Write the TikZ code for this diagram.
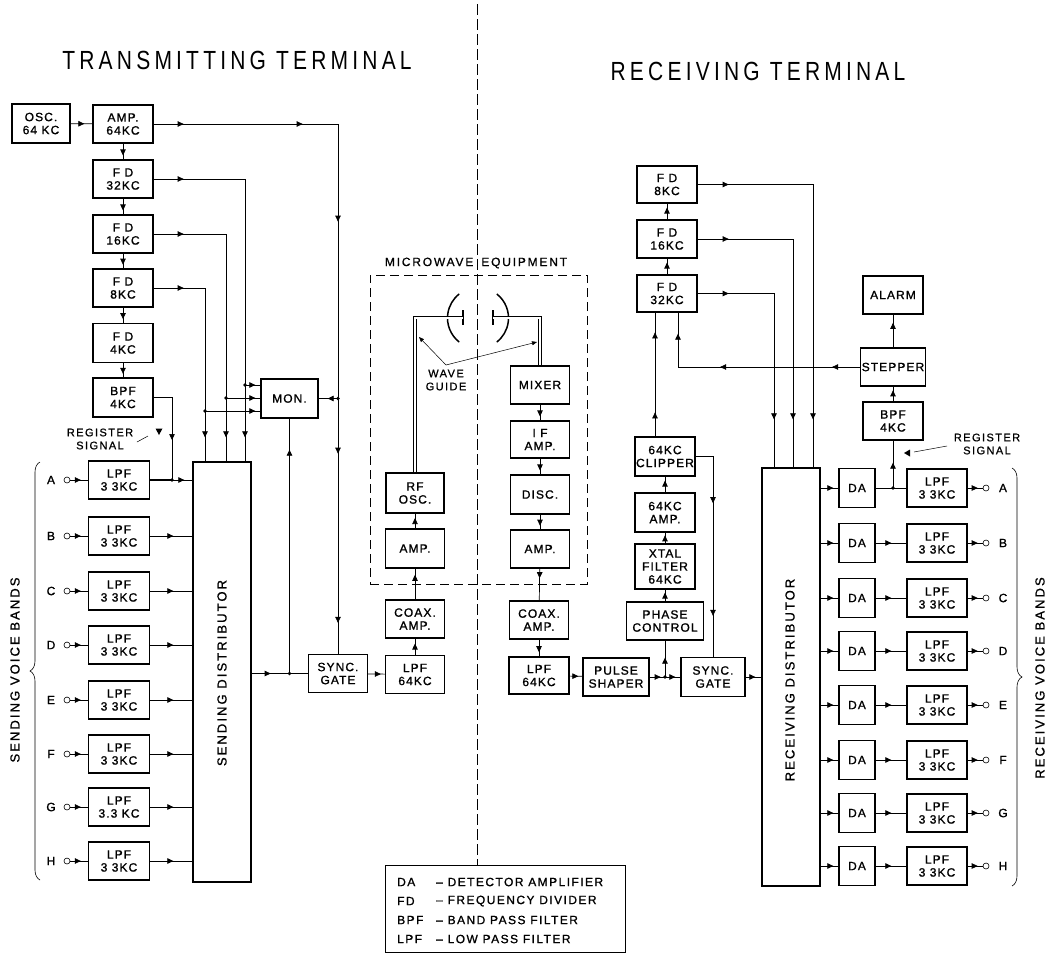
\documentclass[tikz,border=0pt]{standalone}
\usepackage{fontspec}
\setmainfont{Liberation Sans}[LetterSpace=9]
\usetikzlibrary{arrows.meta,decorations.markings,decorations.pathreplacing}
\newcommand\bxf{\fontsize{12}{13}\selectfont\addfontfeatures{FakeBold=1.2}}
\newcommand\smf{\fontsize{11}{13}\selectfont\addfontfeatures{LetterSpace=13,FakeBold=0.8}}
\newcommand\lgf{\fontsize{12}{14}\selectfont\addfontfeatures{LetterSpace=12,FakeBold=1}}
\newcommand\mwf{\fontsize{12}{14}\selectfont\addfontfeatures{LetterSpace=15,FakeBold=0.8}}
\newcommand\rotf{\fontsize{13}{15}\selectfont\addfontfeatures{LetterSpace=16,FakeBold=1}}
\newcommand\ttlf{\fontsize{21}{25}\selectfont\addfontfeatures{LetterSpace=20}}
\tikzset{
  box/.style 2 args={draw, line width=1.3pt, minimum width=#1, minimum height=#2,
     inner sep=1pt, align=center, font=\bxf},
  ln/.style={line width=0.7pt},
  ah/.style={postaction={decorate, decoration={markings,
     mark=at position #1 with {\arrow{Triangle[length=6pt,width=5.5pt]}}}}},
  dot/.style={circle, fill, inner sep=0pt, minimum size=3.6pt},
  term/.style={circle, draw, line width=0.6pt, inner sep=0pt, minimum size=6pt},
  wgl/.style={double, double distance=2pt, line width=0.75pt},
  lbl/.style={font=\lgf, inner sep=0pt},
  leader/.style={line width=0.5pt},
}
\begin{document}
\begin{tikzpicture}[x=1pt,y=-1pt]
\useasboundingbox (0,0) rectangle (1049,954);

% titles
\node[font=\ttlf] (t1) at (237,60) {\scalebox{1}[1.25]{TRANSMITTING TERMINAL}};
\node[font=\ttlf] (t2) at (758,71) {\scalebox{1}[1.25]{RECEIVING TERMINAL}};

% legend and divider
\node[draw, line width=1pt, minimum width=240, minimum height=87] (leg) at (505,908.5) {};
\node[lbl, anchor=west] (lg1) at (397,882) {DA};
\node[lbl, anchor=west] (lg1d) at (436,882) {– DETECTOR AMPLIFIER};
\node[lbl, anchor=west] (lg2) at (397,901) {FD};
\node[lbl, anchor=west] (lg2d) at (436,901) {– FREQUENCY DIVIDER};
\node[lbl, anchor=west] (lg3) at (397,920) {BPF};
\node[lbl, anchor=west] (lg3d) at (436,920) {– BAND PASS FILTER};
\node[lbl, anchor=west] (lg4) at (397,939) {LPF};
\node[lbl, anchor=west] (lg4d) at (436,939) {– LOW PASS FILTER};
\coordinate (dtop) at (477,4);
\draw[line width=0.8pt, dash pattern=on 11pt off 4pt] (dtop) -- (dtop |- leg.north);

% ===== transmitting side =====
\node[box={58}{39}] (osc) at (41,123.5) {OSC.\\64 KC};
\node[box={60}{38}] (amp) at (123,124) {AMP.\\64KC};
\node[box={60}{38}] (fd32) at (123,179) {F D\\32KC};
\node[box={60}{38}] (fd16) at (123,234) {F D\\16KC};
\node[box={60}{38}] (fd8) at (123,288) {F D\\8KC};
\node[box={60}{39}] (fd4) at (123,343) {F D\\4KC};
\node[box={60}{39}] (bpf) at (123,397.5) {BPF\\4KC};

\draw[ln, ah=-8pt] (osc) -- (amp);
\draw[ln, ah=0.75] (amp) -- (fd32);
\draw[ln, ah=0.75] (fd32) -- (fd16);
\draw[ln, ah=0.75] (fd16) -- (fd8);
\draw[ln, ah=0.75] (fd8) -- (fd4);
\draw[ln, ah=0.75] (fd4) -- (bpf);

\node[draw, line width=1.3pt, minimum width=58, minimum height=420] (sdist) at (222,672) {};
\node[rotate=90, font=\rotf] (sdistt) at (222,673) {SENDING DISTRIBUTOR};
\coordinate (t8) at ([xshift=-17pt]sdist.north);
\coordinate (t16) at ([xshift=4pt]sdist.north);
\coordinate (t32) at ([xshift=23pt]sdist.north);

\foreach \lab/\yy/\txt in {A/480/3 3KC,B/536/3 3KC,C/591/3 3KC,D/645/3 3KC,E/700/3 3KC,F/754/3 3KC,G/807/3.3 KC,H/861/3 3KC}{
  \node[box={61}{38}] (sl\lab) at (119,\yy) {LPF\\\txt};
  \node[term] (si\lab) at (67,\yy) {};
  \node[font=\bxf] (sn\lab) at (51,\yy) {\lab};
  \draw[ln, ah=-7pt] (si\lab) -- (sl\lab);
}
\foreach \lab in {B,C,D,E,F,G,H}{
  \draw[ln, ah=-19pt] (sl\lab.east) -- (sl\lab.east -| sdist.west);
}
\node[dot] (sja) at (172,480) {};
\draw[line width=1.4pt] (slA.east) -- (sja.center);
\draw[ln, ah=-8pt] (sja.center) -- (slA.east -| sdist.west);
\draw[ln, ah=-40pt] (bpf.east) -| (sja.center);

% register signal (left)
\node[font=\smf, align=center] (rsl) at (100,439) {REGISTER\\SIGNAL};
\fill (155.5,428.5) -- (162.5,428.5) -- (159,435) -- cycle;
\draw[leader] (137,442) -- (148,436);

% brace left
\draw[line width=0.6pt, decorate, decoration={brace, amplitude=10pt}] (40,880) -- (40,462);
\node[rotate=90, font=\rotf] (svb) at (15,670) {SENDING VOICE BANDS};

% FD outputs to distributor
\draw[ln, ah=30pt, ah=-24pt] (fd32.east) -| (t32);
\draw[ln, ah=30pt, ah=-24pt] (fd16.east) -| (t16);
\draw[ln, ah=30pt, ah=-24pt] (fd8.east) -| (t8);

% monitor
\node[box={57}{39}] (mon) at (289.5,398.5) {MON.};
\node[dot] (m32) at (245,385) {};
\node[dot] (m16) at (226,398) {};
\node[dot] (m8) at (205,411) {};
\draw[ln, ah=-5pt] (m32.center) -- (m32.center -| mon.west);
\draw[ln, ah=-5pt] (m16.center) -- (m16.center -| mon.west);
\draw[ln, ah=-5pt] (m8.center) -- (m8.center -| mon.west);

% sync gate / send chain
\node[box={59}{38}] (ssync) at (338,673.5) {SYNC.\\GATE};
\node[box={59}{38}] (slpf) at (415,674.5) {LPF\\64KC};
\node[box={59}{38}] (scoax) at (415,619) {COAX.\\AMP.};
\node[box={59}{39}] (samp) at (415,548.5) {AMP.};
\node[box={58}{40}] (rfosc) at (415,493) {RF\\OSC.};

\draw[ln, ah=30pt, ah=149pt, ah=282pt, ah=514pt, ah=-31pt] (amp.east) -| (ssync.north);
\node[dot] (mr) at (ssync.north |- mon.east) {};
\draw[ln, ah=-9pt] (mr.center) -- (mon.east);
\node[dot] (so) at (mon.south |- ssync.west) {};
\draw[ln, ah=19pt] (sdist.east |- ssync.west) -- (ssync.west);
\draw[ln, ah=-31pt] (so.center) -- (mon.south);
\draw[ln, ah=-4pt] (ssync) -- (slpf);
\draw[ln, ah=0.7] (slpf) -- (scoax);
\draw[ln, ah=0.8] (scoax) -- (samp);
\draw[ln, ah=0.7] (samp) -- (rfosc);

% ===== microwave equipment =====
\node[draw, line width=0.8pt, dash pattern=on 9pt off 5pt, minimum width=217, minimum height=309] (mw) at (478.5,429.5) {};
\node[font=\mwf] (mwt) at (476,263) {MICROWAVE\hspace{8pt}EQUIPMENT};
\draw[line width=1.5pt] (478,318) ++(128:30.5) arc[start angle=128, end angle=232, radius=30.5];
\draw[line width=1.5pt] (478,318) ++(-52:30.5) arc[start angle=-52, end angle=52, radius=30.5];
\draw[line width=1.4pt] (463,310) -- (463,325);
\draw[line width=1.4pt] (493,310) -- (493,325);
\coordinate (fl) at (463,317.5);
\coordinate (fr) at (493,317.5);

\node[box={59}{38}] (mixer) at (540,385) {MIXER};
\node[box={59}{37}] (ifamp) at (540,439.5) {I F\\AMP.};
\node[box={59}{39}] (disc) at (540,494.5) {DISC.};
\node[box={59}{38}] (ramp) at (540,549) {AMP.};
\node[box={59}{38}] (rcoax) at (539,620) {COAX.\\AMP.};
\node[box={60}{37}] (rlpf) at (539,675.5) {LPF\\64KC};

\draw[wgl] (rfosc.north) |- (fl);
\draw[wgl] (fr) -| (mixer.north);
\node[font=\smf, align=center] (wgt) at (446,380) {WAVE\\GUIDE};
\coordinate (wgo) at (446,365);
\draw[leader, -{Triangle[length=5pt,width=4pt]}] (wgo) -- (419,337);
\draw[leader, -{Triangle[length=5pt,width=4pt]}] (wgo) -- (537,342);

\draw[ln, ah=0.75] (mixer) -- (ifamp);
\draw[ln, ah=0.75] (ifamp) -- (disc);
\draw[ln, ah=0.75] (disc) -- (ramp);
\draw[ln, ah=0.3] (ramp) -- (rcoax);
\draw[ln, ah=0.75] (rcoax) -- (rlpf);

% ===== receiving side =====
\node[box={66}{38}] (pulse) at (616,677) {PULSE\\SHAPER};
\node[box={77}{38}] (phase) at (665,621) {PHASE\\CONTROL};
\node[box={60}{45}] (xtal) at (665,566.5) {XTAL\\FILTER\\64KC};
\node[box={60}{39}] (amp64) at (665,512.5) {64KC\\AMP.};
\node[box={60}{39}] (clip) at (665,456.5) {64KC\\CLIPPER};
\node[box={64}{39}] (rsync) at (713,677) {SYNC.\\GATE};
\node[draw, line width=1.3pt, minimum width=58, minimum height=418] (rdist) at (791,677) {};
\node[rotate=90, font=\rotf] (rdistt) at (790,680) {RECEIVING DISTRIBUTOR};

\node[box={60}{37}] (rfd8) at (667,184.5) {F D\\8KC};
\node[box={60}{38}] (rfd16) at (667,239) {F D\\16KC};
\node[box={60}{37}] (rfd32) at (667,293.5) {F D\\32KC};
\node[box={60}{38}] (alarm) at (893,295) {ALARM};
\node[box={60}{38}] (stepper) at (893,367) {STEPPER};
\node[box={60}{38}] (rbpf) at (893,421) {BPF\\4KC};

\draw[ln, ah=-4pt] (rlpf) -- (pulse);
\node[dot] (pj) at (phase.south |- pulse.east) {};
\draw[ln, ah=11pt, ah=-5pt] (pulse) -- (rsync);
\draw[ln, ah=-17pt] (pj.center) -- (phase.south);
\draw[ln, ah=0.75] (phase) -- (xtal);
\draw[ln, ah=0.75] (xtal) -- (amp64);
\draw[ln, ah=0.75] (amp64) -- (clip);
\draw[ln, ah=24pt, ah=104pt] ([xshift=-10pt]clip.north) -- ([xshift=-10pt]clip.north |- rfd32.south);
\draw[ln, ah=28pt, ah=140pt, ah=-21pt] (stepper.west) -| ([xshift=11pt]rfd32.south);
\draw[ln, ah=0.75] (rbpf) -- (stepper);
\draw[ln, ah=0.75] (stepper) -- (alarm);
\draw[ln, ah=0.75] (rfd32) -- (rfd16);
\draw[ln, ah=0.75] (rfd16) -- (rfd8);

\coordinate (u8) at ([xshift=22pt]rdist.north);
\coordinate (u16) at ([xshift=2pt]rdist.north);
\coordinate (u32) at ([xshift=-17pt]rdist.north);
\draw[ln, ah=31pt, ah=-48pt] (rfd8.east) -| (u8);
\draw[ln, ah=31pt, ah=-48pt] (rfd16.east) -| (u16);
\draw[ln, ah=31pt, ah=-48pt] (rfd32.east) -| (u32);
\draw[ln, ah=64pt, ah=-41pt] (clip.east) -| (rsync.north);
\draw[ln, ah=-6pt] (rsync) -- (rsync -| rdist.west);

\foreach \lab/\yy/\txt in {A/488/3 3KC,B/543/3 3KC,C/598/3 3KC,D/651/3 3KC,E/705/3 3KC,F/760/3 3KC,G/813/3 3KC,H/866/3 3KC}{
  \node[box={36}{39}] (da\lab) at (857,\yy) {DA};
  \node[box={60}{38}] (rl\lab) at (937,\yy) {LPF\\\txt};
  \node[term] (ro\lab) at (986,\yy) {};
  \node[font=\bxf] (rn\lab) at (1003,\yy) {\lab};
  \draw[ln, ah=-5pt] (rdist.east |- da\lab.west) -- (da\lab.west);
  \draw[ln, ah=-5pt] (rl\lab.east) -- (ro\lab);
}
\foreach \lab in {B,C,D,E,F,G,H}{
  \draw[ln, ah=-15pt] (da\lab) -- (rl\lab);
}
\node[dot] (rj) at (rbpf.south |- daA.east) {};
\draw[ln] (daA) -- (rlA);
\draw[ln, ah=-22pt] (rj.center) -- (rbpf.south);

% register signal (right)
\node[font=\smf, align=center] (rsr) at (987,444) {REGISTER\\SIGNAL};
\fill (904,453) -- (910,449.5) -- (910,456.5) -- cycle;
\draw[leader] (914,452) -- (947,446);

% brace right
\draw[line width=0.6pt, decorate, decoration={brace, amplitude=10pt}] (1012,468) -- (1012,886);
\node[rotate=90, font=\rotf] (rvb) at (1040,678) {RECEIVING VOICE BANDS};

\end{tikzpicture}
\end{document}
